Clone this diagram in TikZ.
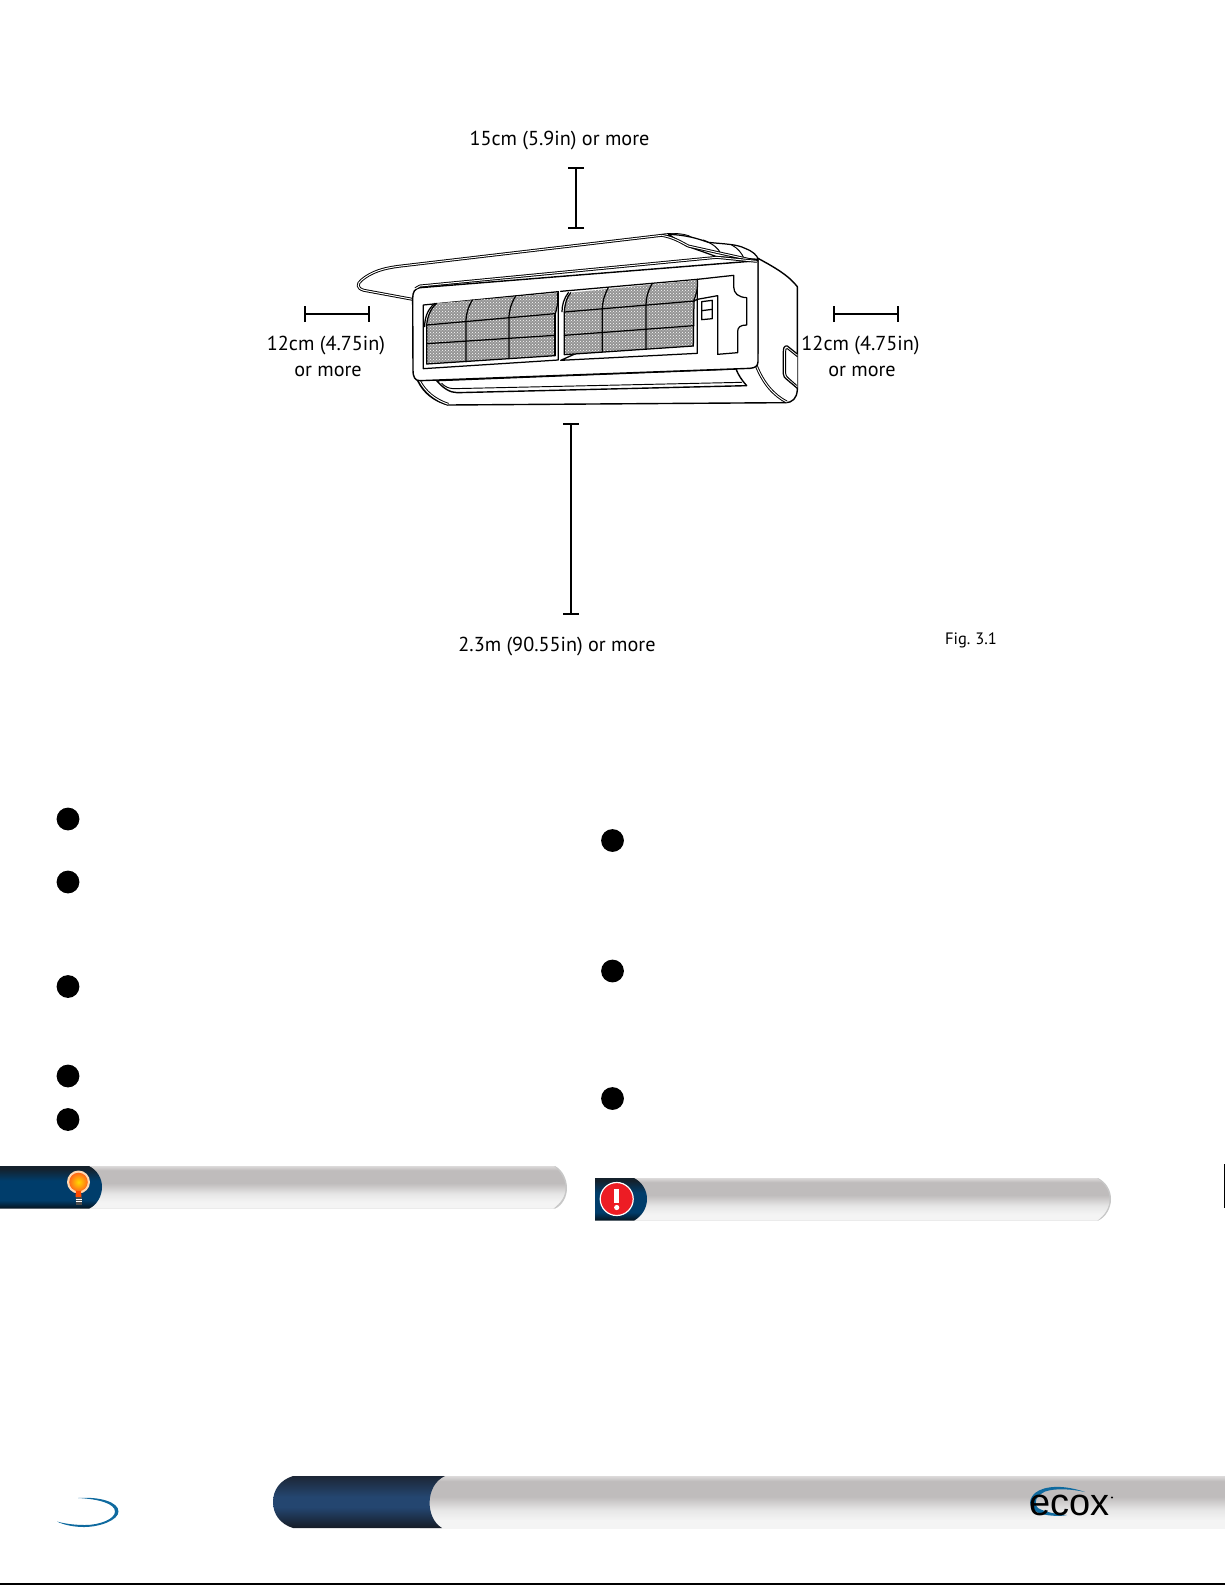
\documentclass[tikz,border=0pt]{standalone}
\usepackage{fontspec}
\setmainfont{PT Sans}
\usetikzlibrary{arrows.meta,patterns}
\definecolor{gA}{HTML}{DCDADA}\definecolor{gB}{HTML}{BFBCBC}\definecolor{gC}{HTML}{E6E6E6}\definecolor{gD}{HTML}{F4F4F4}
\definecolor{dA}{HTML}{14212C}\definecolor{dB}{HTML}{003D6B}\definecolor{dC}{HTML}{06121C}
\definecolor{fA}{HTML}{1C2636}\definecolor{fB}{HTML}{244670}\definecolor{fC}{HTML}{161C26}
\definecolor{swoosh}{HTML}{0F6A9F}
\definecolor{alert}{HTML}{ED1C24}
\pgfdeclareverticalshading{grayband}{100bp}{color(0bp)=(gD);color(25bp)=(gD);color(32.5bp)=(gD);color(42.5bp)=(gC);color(55bp)=(gB);color(70bp)=(gB);color(75bp)=(gA);color(100bp)=(gA)}
\pgfdeclareverticalshading{darkband}{100bp}{color(0bp)=(dC);color(25bp)=(dC);color(35bp)=(dB);color(58bp)=(dB);color(72bp)=(dA);color(100bp)=(dA)}
\pgfdeclareverticalshading{footband}{100bp}{color(0bp)=(fC);color(25bp)=(fC);color(45bp)=(fB);color(55bp)=(fB);color(75bp)=(fA);color(100bp)=(fA)}
\tikzset{
  lbl/.style={font=\fontsize{20.2}{24}\selectfont,inner sep=0pt,text=black},
  figlbl/.style={font=\fontsize{16.5}{20}\selectfont,inner sep=0pt,text=black},
  dimline/.style={line width=1.8pt,{Bar[width=16pt,line width=1.8pt]}-{Bar[width=16pt,line width=1.8pt]}},
  dimheavy/.style={line width=2.3pt,{Bar[width=16pt,line width=2pt]}-{Bar[width=16pt,line width=2pt]}},
  bullet/.style={circle,fill=black,minimum size=22.8pt,inner sep=0pt},
  ac/.style={line width=1.25pt,line join=round,line cap=round},
  acthin/.style={line width=.95pt,line join=round,line cap=round},
  dbl/.style={line width=.95pt,double=white,double distance=1pt,line join=round},
  mesh/.style={fill=black!42,postaction={pattern=crosshatch dots,pattern color=white}}
}
\begin{document}
\begin{tikzpicture}[x=1pt,y=-1pt]
\useasboundingbox (0,0) rectangle (1225,1585);
% labels
\node[lbl] (ltop) at (559.5,140.5) {15cm (5.9in) or more};
\node[lbl] (lleft1) at (326,346) {12cm (4.75in)};
\node[lbl] (lleft2) at (328,371.5) {or more};
\node[lbl] (lright1) at (860.5,346) {12cm (4.75in)};
\node[lbl] (lright2) at (862,371.5) {or more};
\node[lbl] (lbot) at (557,647) {2.3m (90.55in) or more};
\node[figlbl] (lfig) at (971,640.5) {Fig.\kern-1pt{} 3.1};
% dimension bars
\coordinate (tA) at (576,167);\coordinate (tB) at (576,228.5);
\coordinate (lA) at (304,314);\coordinate (lB) at (369.5,314);
\coordinate (rA) at (833,314);\coordinate (rB) at (899,314);
\coordinate (bA) at (571,422.8);\coordinate (bB) at (571,615);
\draw[dimline] (tA) -- (tB);
\draw[dimheavy] (lA) -- (lB);
\draw[dimheavy] (rA) -- (rB);
\draw[dimline] (bA) -- (bB);
% air-conditioner unit
\begin{scope}[shift={(340pt,-220pt)},x=.33333pt,y=-.33333pt]
 % flap
 \draw[dbl,fill=white] (218,238) -- (72,211) .. controls (50,205) and (50,192) .. (65,180)
   .. controls (95,155) and (130,145) .. (175,139) -- (965,46)
   .. controls (990,42) and (1020,42) .. (1045,50) -- (1130,100) -- (1252,125) -- (218,238) -- cycle;
 % hinge covers
 \draw[ac,fill=white] (985,43) .. controls (1040,45) and (1070,55) .. (1105,67)
   .. controls (1150,72) and (1190,72) .. (1215,85) .. controls (1240,95) and (1250,105) .. (1255,118) -- (1130,110) -- (1040,78) -- cycle;
 \draw[acthin] (1090,60) .. controls (1120,72) and (1135,85) .. (1142,100);
 \draw[acthin] (1175,75) .. controls (1195,85) and (1205,100) .. (1212,115);
 \draw[dbl] (965,46) .. controls (1000,52) and (1020,65) .. (1045,78) -- (1130,97) -- (1252,124);
 % side and underside
 \draw[ac,line width=1.4pt,fill=white] (1254,115) .. controls (1300,140) and (1345,165) .. (1372,200)
   -- (1372,510) .. controls (1370,535) and (1358,548) .. (1335,548)
   -- (325,555) .. controls (285,545) and (250,520) .. (232,480) -- (232,400) -- (1254,400) -- cycle;
 \draw[dbl] (1248,435) .. controls (1270,490) and (1300,525) .. (1340,546);
 \draw[dbl] (238,482) .. controls (255,515) and (285,540) .. (325,553);
 % vent on the side
 \draw[ac,fill=white] (1372,402) -- (1342,378) .. controls (1332,376) and (1330,385) .. (1330,395)
   -- (1330,462) .. controls (1330,470) and (1335,474) .. (1340,478) -- (1372,505);
 \draw[acthin] (1372,410) -- (1342,386) .. controls (1337,384) and (1337,388) .. (1337,395) -- (1337,460) .. controls (1337,466) and (1340,470) .. (1345,474) -- (1370,496);
 % louver
 \draw[ac,line width=1.4pt,fill=white] (290,482) .. controls (310,505) and (330,518) .. (352,518) -- (1220,497)
   .. controls (1205,480) and (1195,465) .. (1188,447) -- cycle;
 \draw[acthin] (305,490) .. controls (315,500) and (325,505) .. (340,506) -- (1205,487);
 % front panel
 \draw[ac,line width=1.4pt,fill=white] (218,235) .. controls (218,215) and (225,205) .. (240,203)
   -- (1254,122) -- (1254,425) .. controls (1254,438) and (1245,444) .. (1230,445)
   -- (240,482) .. controls (225,482) and (219,472) .. (219,450) -- cycle;
 \draw[dbl] (226,206) -- (240,198) -- (1130,112) -- (1250,124);
 % left filter frame
 \draw[ac] (250,255) -- (655,215) -- (655,420) -- (250,446) -- cycle;
 \path[mesh] (290,250) -- (652,219) .. controls (656,250) and (650,265) .. (645,285) -- (645,407) -- (260,432) -- (260,315) .. controls (262,290) and (272,265) .. (290,250) -- cycle;
 \draw[ac] (645,407) -- (260,432) -- (260,315) .. controls (262,290) and (272,265) .. (290,250);
 \draw[ac] (285,250) .. controls (265,265) and (254,290) .. (254,320);
 \draw[ac] (645,285) -- (645,407);
 \draw[ac] (652,219) .. controls (656,250) and (650,265) .. (645,285);
 \draw[ac] (260,315) -- (645,281);
 \draw[ac] (260,371) -- (645,346);
 \draw[ac] (397,240) .. controls (385,260) and (378,280) .. (378,305) -- (378,425);
 \draw[ac] (527,228) .. controls (514,250) and (507,270) .. (507,295) -- (507,415);
 % right filter frame
 \draw[ac] (662,214) -- (1072,178) -- (1072,238);
 \draw[ac] (1072,238) -- (1072,400) -- (662,421) -- cycle;
 \path[mesh] (692,218) -- (1072,180) .. controls (1075,205) and (1068,225) .. (1062,240) -- (1060,378) -- (673,404) -- (673,275) .. controls (675,250) and (680,232) .. (692,218) -- cycle;
 \draw[ac] (1060,378) -- (673,404) -- (673,275) .. controls (675,250) and (680,232) .. (692,218);
 \draw[ac] (685,218) .. controls (672,235) and (666,255) .. (666,275);
 \draw[ac] (1072,180) .. controls (1075,205) and (1068,225) .. (1062,240) -- (1060,378);
 \draw[ac] (673,276) -- (1064,243);
 \draw[ac] (673,346) -- (1061,317);
 \draw[ac] (805,203) .. controls (793,225) and (787,245) .. (787,270) -- (787,395);
 \draw[ac] (937,190) .. controls (924,212) and (918,232) .. (918,255) -- (918,386);
 % control panel
 \draw[ac] (1072,178) -- (1181,166) -- (1181,200) .. controls (1181,220) and (1195,232) .. (1220,233)
   -- (1220,315) .. controls (1200,315) and (1193,322) .. (1193,335) -- (1193,398) -- (1133,403) -- (1133,227) -- (1072,238);
 \draw[ac] (1085,245) -- (1117,241) -- (1117,296) -- (1085,299) -- cycle;
 \draw[ac] (1085,272) -- (1117,268);
\end{scope}
% bullets
\node[bullet] (a1) at (68,819) {};
\node[bullet] (a2) at (68,882) {};
\node[bullet] (a3) at (68,986.5) {};
\node[bullet] (a4) at (68,1076) {};
\node[bullet] (a5) at (68,1119.5) {};
\node[bullet] (b1) at (612.5,840.5) {};
\node[bullet] (b2) at (612.5,971) {};
\node[bullet] (b3) at (612.5,1098.5) {};
% tip banner
\fill[black!22] (80,1166) -- (555,1166) .. controls (563,1170) and (567,1180) .. (567,1188) .. controls (567,1196) and (563,1205) .. (555,1208.7) -- (80,1208.7) -- cycle;
\shade[shading=grayband] (80,1166) -- (554,1166) .. controls (561,1172) and (565.5,1180) .. (565.5,1188) .. controls (565.5,1196) and (561,1203) .. (553,1208.7) -- (80,1208.7) -- cycle;
\shade[shading=darkband] (0,1166) -- (89,1166) .. controls (97,1170) and (102,1178) .. (102,1187) .. controls (102,1196) and (97,1205) .. (89,1208.7) -- (0,1208.7) -- cycle;
% bulb
\fill[orange!30!white] (78.5,1182) circle (11.5);
\shade[inner color=yellow!70!orange,outer color=orange!70!red!90!white] (78.5,1182) circle (9.3);
\fill[orange!60!red] (76,1191) -- (81,1191) -- (81.5,1197) -- (75.5,1197) -- cycle;
\fill[black!70] (75.5,1197) rectangle (81.5,1205);
\draw[white,line width=.6pt] (75.5,1199) -- (81.5,1199) (75.5,1201.5) -- (81.5,1201.5);
% alert banner
\fill[black!22] (630,1178) -- (1098,1178) .. controls (1106,1182) and (1111,1190) .. (1111,1199) .. controls (1111,1208) and (1106,1217) .. (1098,1220.7) -- (630,1220.7) -- cycle;
\shade[shading=grayband] (630,1178) -- (1097,1178) .. controls (1105,1184) and (1109.5,1191) .. (1109.5,1199) .. controls (1109.5,1208) and (1105,1215) .. (1097,1220.7) -- (630,1220.7) -- cycle;
\shade[shading=darkband] (595,1178) -- (634,1178) .. controls (642,1182) and (647,1190) .. (647,1199) .. controls (647,1208) and (642,1216) .. (634,1220.7) -- (595,1220.7) -- cycle;
\fill[alert,draw=white,line width=1.2pt] (616.7,1199) circle (16.5);
\fill[white] (614.3,1189) rectangle (619,1203);
\fill[white] (616.7,1207.5) circle (2.6);
% stray rule at the page edge
\coordinate (eA) at (1224.3,1164);\coordinate (eB) at (1224.3,1208);
\draw[line width=1.2pt] (eA) -- (eB);
% footer band
\shade[shading=grayband] (420,1476) rectangle (1225,1528);
\shade[shading=footband] (445,1476) -- (293,1476) .. controls (280,1480) and (273,1490) .. (273,1502) .. controls (273,1514) and (280,1524) .. (293,1528) -- (442,1528) .. controls (425,1518) and (425,1485) .. (445,1476) -- cycle;
% logo swoosh at the left
\fill[swoosh] (78,1498) .. controls (100,1496.5) and (118.5,1502) .. (118.5,1511.5) .. controls (118.5,1520) and (100,1527) .. (84,1527) .. controls (74,1527) and (64,1525) .. (57,1521.5) .. controls (66,1524) and (76,1525) .. (85,1525) .. controls (100,1525) and (115,1519) .. (115,1511.5) .. controls (115,1504) and (100,1499) .. (78,1498) -- cycle;
% ecox logo
\fill[swoosh] (1085,1492) .. controls (1065,1485) and (1045,1485) .. (1035,1493) .. controls (1026,1501) and (1030,1511) .. (1042,1514) .. controls (1050,1516) and (1060,1516.5) .. (1067,1515) .. controls (1055,1514) and (1045,1512) .. (1038,1508) .. controls (1033,1503) and (1036,1496) .. (1045,1491.5) .. controls (1055,1488) and (1072,1489) .. (1085,1492) -- cycle;
\node[inner sep=0pt,font=\fontsize{38}{40}\selectfont\fontspec{Liberation Sans},anchor=base west] (ecox) at (1029,1515) {ecox};
\fill[black] (1112,1497.5) circle (1.1);
% bottom rule
\coordinate (fL) at (0,1584);\coordinate (fR) at (1225,1584);
\draw[line width=1.6pt] (fL) -- (fR);
\end{tikzpicture}
\end{document}
